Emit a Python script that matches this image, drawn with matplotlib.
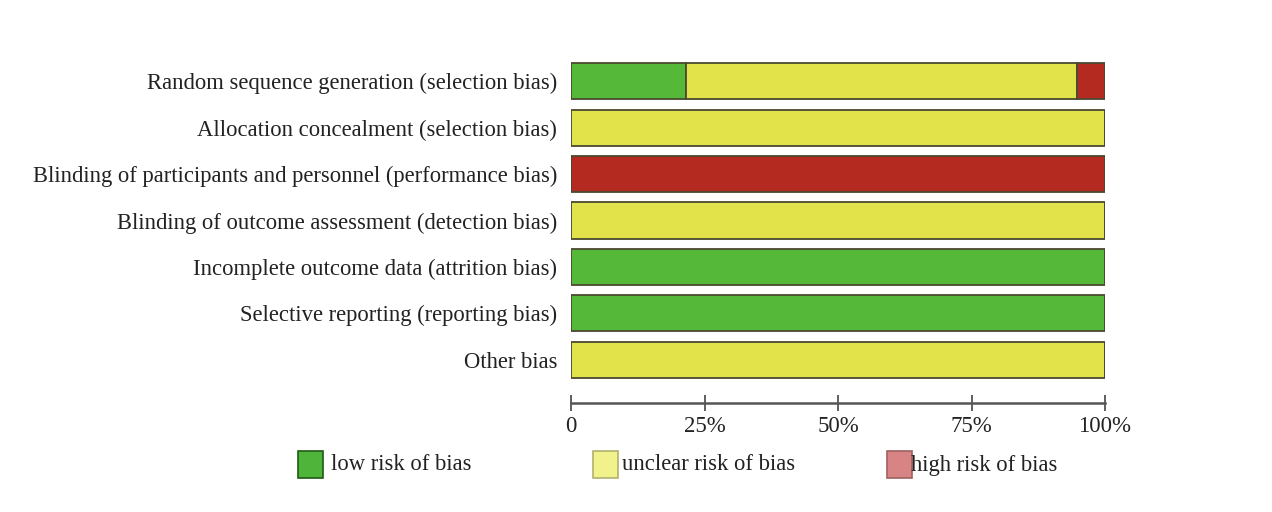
import matplotlib.pyplot as plt
from matplotlib.patches import Rectangle

plt.rcParams['font.family'] = ['Liberation Serif', 'DejaVu Serif']

domains = ['Random sequence generation (selection bias)',
           'Allocation concealment (selection bias)',
           'Blinding of participants and personnel (performance bias)',
           'Blinding of outcome assessment (detection bias)',
           'Incomplete outcome data (attrition bias)',
           'Selective reporting (reporting bias)',
           'Other bias']
low = [21.5, 0, 0, 0, 100, 100, 0]
unclear = [73.2, 100, 0, 100, 0, 0, 100]
high = [5.3, 0, 100, 0, 0, 0, 0]

tick_vals = [0, 25, 50, 75, 100]
tick_labels = ['0', '25%', '50%', '75%', '100%']
legend_labels = ['low risk of bias', 'unclear risk of bias', 'high risk of bias']

bar_colors = ['#55b838', '#e2e24a', '#b52a20']
legend_colors = ['#4fb43a', '#f2f28c', '#d98484']
legend_edges = ['#1e5a14', '#b0b070', '#a06060']

fig = plt.figure(figsize=(12.72, 5.12), dpi=100)
ax = fig.add_axes([571 / 1272, 1 - 403 / 512, 534 / 1272, 345 / 512])

y = list(range(len(domains)))
h = 0.78
edge = '#4a4a30'
left_unclear = low
left_high = [a + b for a, b in zip(low, unclear)]
ax.barh(y, low, height=h, color=bar_colors[0], edgecolor=edge, linewidth=1.3)
ax.barh(y, unclear, left=left_unclear, height=h, color=bar_colors[1], edgecolor=edge, linewidth=1.3)
ax.barh(y, high, left=left_high, height=h, color=bar_colors[2], edgecolor=edge, linewidth=1.3)

ax.set_xlim(0, 100)
ax.set_ylim(6.93, -0.5)
ax.set_yticks(y)
ax.set_yticklabels(domains, fontsize=16.3, color='#222222')
ax.tick_params(axis='y', length=0, pad=10)
ax.set_xticks(tick_vals)
ax.set_xticklabels(tick_labels, fontsize=16.5, color='#222222')
ax.tick_params(axis='x', direction='inout', length=11, width=1.2, color='#444444', pad=4)
for s in ['top', 'right', 'left']:
    ax.spines[s].set_visible(False)
ax.spines['bottom'].set_linewidth(1.8)
ax.spines['bottom'].set_color('#555555')

# legend
patch_x = [298, 593, 887]
text_x = [331, 622, 911]
for px, tx, c, e, lab in zip(patch_x, text_x, legend_colors, legend_edges, legend_labels):
    fig.add_artist(Rectangle((px / 1272, 1 - 478 / 512), 25 / 1272, 27 / 512,
                             transform=fig.transFigure, facecolor=c, edgecolor=e, linewidth=1.2))
    fig.text(tx / 1272, 1 - 465 / 512, lab, fontsize=16.3, color='#222222', va='center', ha='left')

plt.savefig('out.png')
